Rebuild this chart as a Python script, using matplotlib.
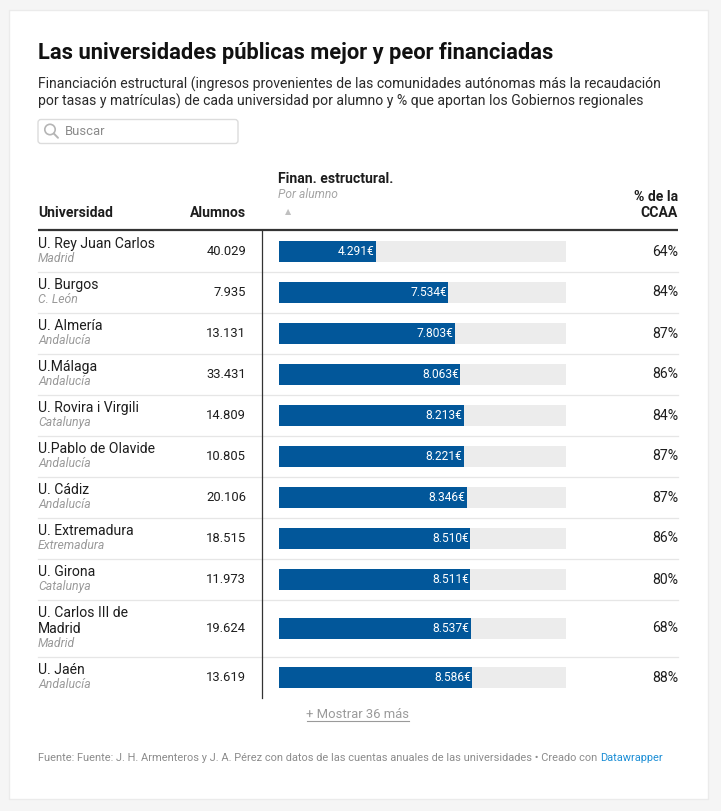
import matplotlib.pyplot as plt
from matplotlib.patches import Rectangle, FancyBboxPatch, Circle
import numpy as np

plt.rcParams['font.family'] = ['Roboto', 'DejaVu Sans']

universidades = ['U. Rey Juan Carlos', 'U. Burgos', 'U. Almería', 'U.Málaga',
                 'U. Rovira i Virgili', 'U.Pablo de Olavide', 'U. Cádiz',
                 'U. Extremadura', 'U. Girona', 'U. Carlos III de\nMadrid', 'U. Jaén']
regiones = ['Madrid', 'C. León', 'Andalucía', 'Andalucía', 'Catalunya', 'Andalucía',
            'Andalucía', 'Extremadura', 'Catalunya', 'Madrid', 'Andalucía']
alumnos = ['40.029', '7.935', '13.131', '33.431', '14.809', '10.805',
           '20.106', '18.515', '11.973', '19.624', '13.619']
financiacion = [4291, 7534, 7803, 8063, 8213, 8221, 8346, 8510, 8511, 8537, 8586]
pct_ccaa = [64, 84, 87, 86, 84, 87, 87, 86, 80, 68, 88]
fin_max = 12760  # máximo de la tabla completa (escala de la barra)

W, H = 721, 811
px = 0.72  # px -> pt a dpi 100

fig = plt.figure(figsize=(W / 100, H / 100), dpi=100, facecolor='#f5f5f5')
ax = fig.add_axes([0, 0, 1, 1])
ax.set_xlim(0, W)
ax.set_ylim(H, 0)
ax.axis('off')

# tarjeta blanca
ax.add_patch(Rectangle((9, 10), 699, 789, facecolor='white', edgecolor='#ebebeb', lw=1))

dark = '#1d1d1d'
grey = '#9a9a9a'
L, R = 38, 678

ax.text(L, 52.5, 'Las universidades públicas mejor y peor financiadas', fontsize=21.9 * px,
        fontweight='bold', color='#111111', va='center', ha='left')
ax.text(L, 84, 'Financiación estructural (ingresos provenientes de las comunidades autónomas más la recaudación',
        fontsize=14.05 * px, color='#2a2a2a', va='center')
ax.text(L, 101, 'por tasas y matrículas) de cada universidad por alumno y % que aportan los Gobiernos regionales',
        fontsize=14.05 * px, color='#2a2a2a', va='center')

# buscador
ax.add_patch(FancyBboxPatch((L, 119.5), 200, 24, boxstyle='round,pad=0,rounding_size=3',
                            facecolor='white', edgecolor='#dcdcdc', lw=1))
ax.add_patch(Circle((50, 129.5), 5.2, facecolor='none', edgecolor='#b5b5b5', lw=1.2))
ax.plot([53.8, 58], [133.5, 137.8], color='#b5b5b5', lw=1.4, solid_capstyle='round')
ax.text(65, 131.5, 'Buscar', fontsize=13 * px, color='#8a8a8a', va='center')

# cabecera
hdr = 14 * px
ax.text(L, 213, 'Universidad', fontsize=hdr, fontweight='bold', color=dark, va='center')
ax.text(246, 213, 'Alumnos', fontsize=hdr, fontweight='bold', color=dark, va='center', ha='right')
ax.text(278, 179, 'Finan. estructural.', fontsize=hdr, fontweight='bold', color=dark, va='center')
ax.text(278, 195, 'Por alumno', fontsize=12 * px, style='italic', color='#a5a5a5', va='center')
ax.text(288, 212, '▲', fontsize=8 * px, color='#c0c0c0', va='center', ha='center', family='DejaVu Sans')
ax.text(R, 197, '% de la', fontsize=hdr, fontweight='bold', color=dark, va='center', ha='right')
ax.text(R, 213, 'CCAA', fontsize=hdr, fontweight='bold', color=dark, va='center', ha='right')
ax.plot([L, R], [230, 230], color='#333333', lw=1.6, solid_capstyle='butt')

# filas
alturas = [41 if '\n' not in n else 57 for n in universidades]
tops = 231 + np.concatenate([[0], np.cumsum(alturas)[:-1]])
centros = tops + np.array(alturas) / 2
fondo = tops[-1] + alturas[-1]

for i, nombre in enumerate(universidades):
    top = tops[i]
    lineas = nombre.split('\n')
    for k, ln in enumerate(lineas):
        ax.text(L, top + 13 + 16 * k, ln, fontsize=14 * px, color=dark, va='center')
    ax.text(L, top + 13 + 16 * (len(lineas) - 1) + 14.5, regiones[i], fontsize=12.2 * px,
            style='italic', color=grey, va='center')
    ax.text(246, centros[i], alumnos[i], fontsize=13 * px, color=dark, va='center', ha='right')
    ax.text(R, centros[i], f'{pct_ccaa[i]}%', fontsize=14 * px, color=dark, va='center', ha='right')
    if i < len(universidades) - 1:
        ax.plot([L, R], [top + alturas[i], top + alturas[i]], color='#e6e6e6', lw=0.9)

ax.plot([262, 262], [231, fondo], color='#333333', lw=0.9)

# barras en su propio eje (€ en x, píxeles en y)
axb = fig.add_axes([279 / W, 0, (566 - 279) / W, 1])
axb.set_xlim(0, fin_max)
axb.set_ylim(H, 0)
axb.axis('off')
axb.barh(centros, [fin_max] * len(centros), height=21, color='#ececec')
axb.barh(centros, financiacion, height=21, color='#02579a')
for c, v in zip(centros, financiacion):
    axb.text(v - 60, c, f'{v:,}€'.replace(',', '.'), fontsize=12 * px, color='white',
             va='center', ha='right')

# pie
ax.text(358, 714, '+ Mostrar 36 más', fontsize=13 * px, color='#9a9a9a', va='center', ha='center')
ax.plot([307, 409], [721, 721], color='#9a9a9a', lw=0.8)
fuente = ('Fuente: Fuente: J. H. Armenteros y J. A. Pérez con datos de las cuentas anuales '
          'de las universidades • Creado con ')
t = ax.text(L, 758, fuente, fontsize=10.95 * px, color='#8c8c8c', va='center')
fig.canvas.draw()
bb = t.get_window_extent()
x_end = ax.transData.inverted().transform((bb.x1, bb.y0))[0]
ax.text(x_end, 758, 'Datawrapper', fontsize=10.95 * px, color='#1d8fd6', va='center')

fig.savefig('out.png', dpi=100, facecolor=fig.get_facecolor())
